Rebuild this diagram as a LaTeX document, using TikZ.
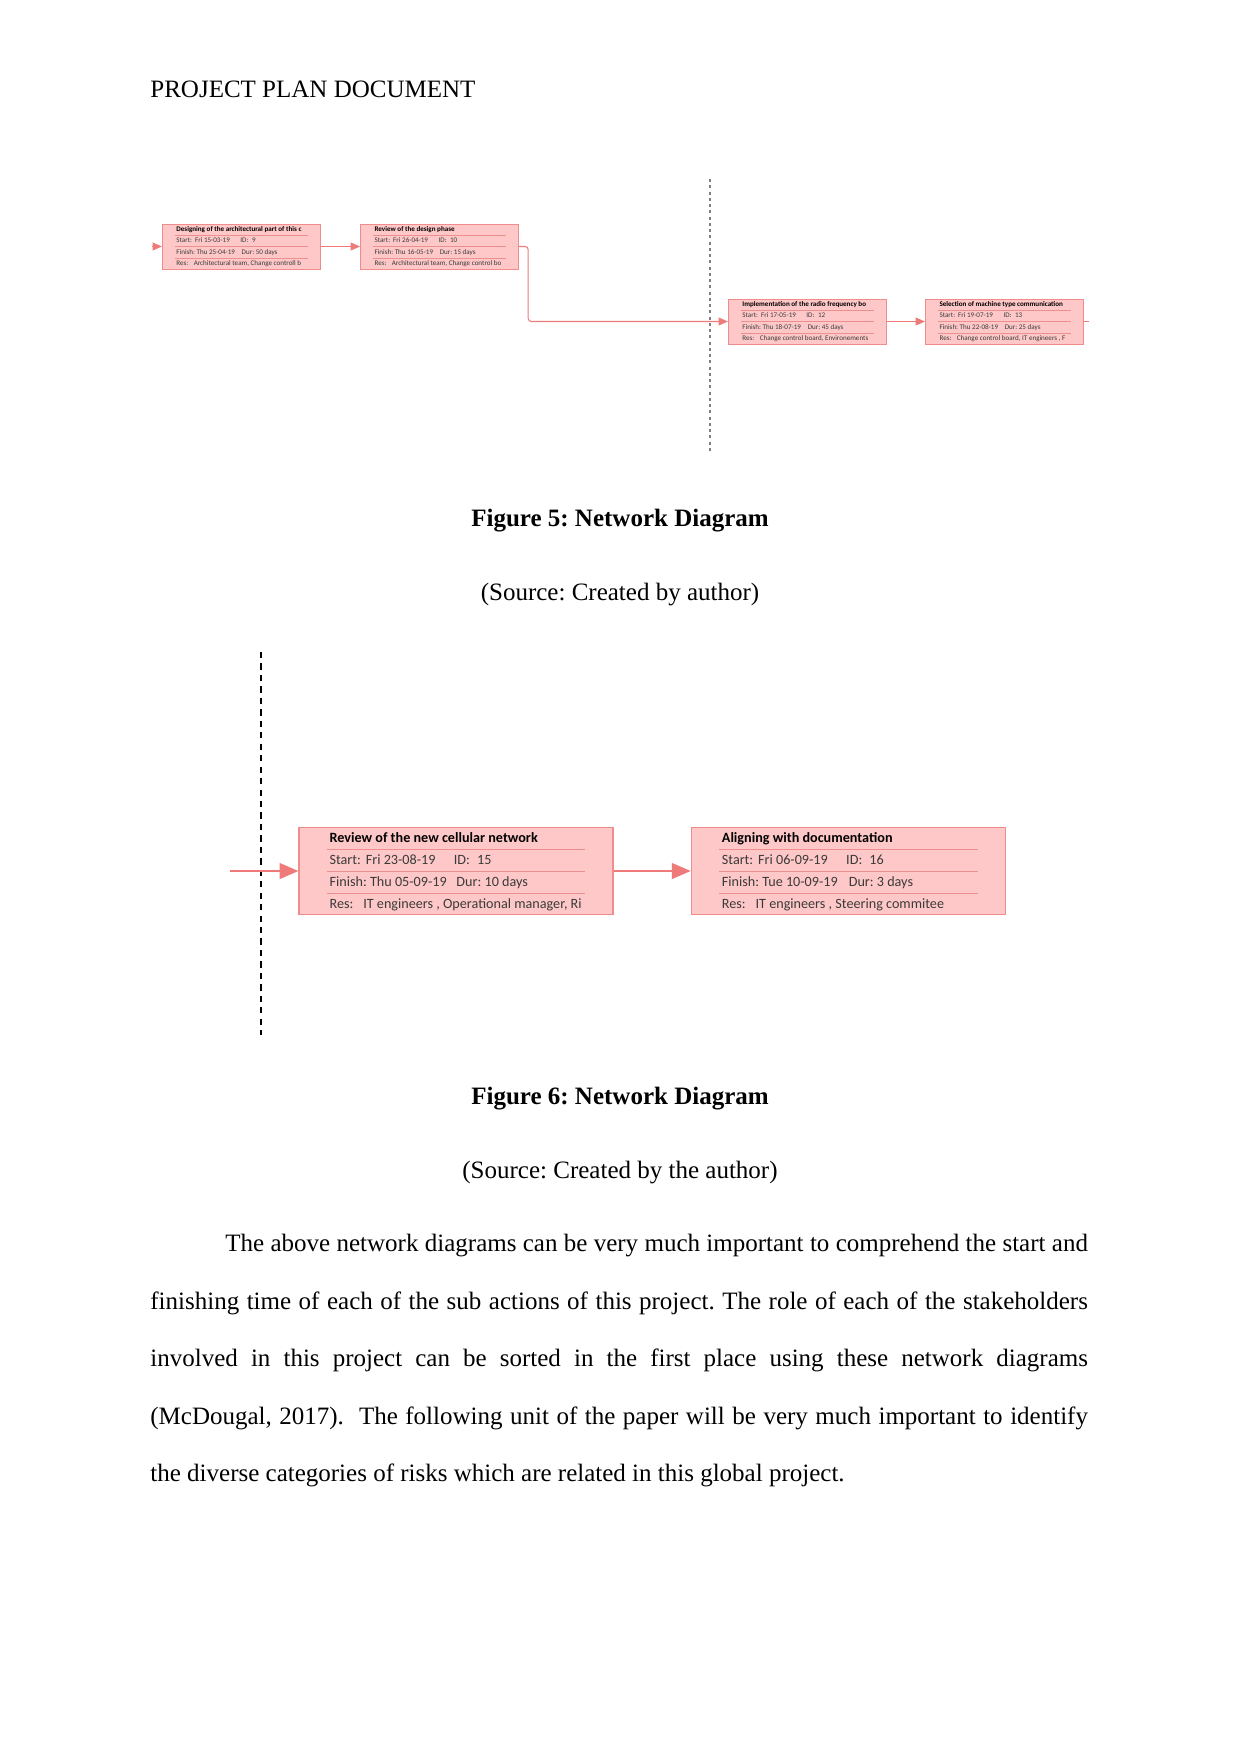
\documentclass[tikz,border=0pt]{standalone}
\usepackage{fontspec}
\setmainfont{Liberation Serif}
\newfontfamily\calibri{Carlito}
\usepackage{colortbl}
\usetikzlibrary{arrows.meta,positioning}
\definecolor{taskfill}{HTML}{FFC8C8}
\definecolor{taskedge}{HTML}{F08C8C}
\definecolor{taskrule}{HTML}{EE8F8F}
\definecolor{linkred}{HTML}{EF7A7A}
\definecolor{rowtext}{HTML}{3A3A3A}
\renewcommand\arraystretch{1.3}
\frenchspacing
\newlength\taskw

% width, title, start, id, finish, dur, res
\newcommand\taskrows[7]{%
  \setlength\taskw{#1}%
  \arrayrulecolor{taskrule}%
  \begin{tabular}{@{}l@{}}
    \makebox[\taskw][l]{\hspace{0.012\taskw}\textbf{#2}}\\\hline
    \color{rowtext}\makebox[\taskw][l]{\hspace{0.012\taskw}\makebox[0.48\taskw][l]{\makebox[0.14\taskw][l]{Start:}#3}ID:\enspace #4}\\\hline
    \color{rowtext}\makebox[\taskw][l]{\hspace{0.012\taskw}\makebox[0.49\taskw][l]{Finish: #5}Dur: #6}\\\hline
    \color{rowtext}\makebox[\taskw][l]{\hspace{0.012\taskw}\makebox[0.13\taskw][l]{Res:}#7}
  \end{tabular}}

\begin{document}
\begin{tikzpicture}[
    x=0.48pt, y=-0.48pt,
    task/.style={draw=taskedge, fill=taskfill, inner ysep=0pt, line width=0.6pt},
    bigtask/.style={task, inner xsep=13.2pt, font=\calibri\fontsize{6.8}{7.8}\selectfont},
    smalltask/.style={task, inner xsep=6pt, line width=0.4pt,
                      font=\calibri\fontsize{3.4}{4}\selectfont\setlength\arrayrulewidth{0.25pt}},
    link/.style={-{Triangle[length=9pt,width=7.5pt]}, linkred, line width=1pt},
    smalllink/.style={-{Triangle[length=4.5pt,width=3.8pt]}, linkred, line width=0.5pt},
    caption/.style={font=\fontsize{12}{14}\selectfont\bfseries, inner sep=0pt},
    source/.style={font=\fontsize{12}{14}\selectfont, inner sep=0pt}
  ]
  \useasboundingbox (0,0) rectangle (1241,1754);

  \node[anchor=base west, inner sep=0pt, font=\fontsize{12}{14}\selectfont] (head) at (150,97) {PROJECT PLAN DOCUMENT};

  % Figure 5
  \draw[gray, line width=0.5pt, dash pattern=on 1.5pt off 1.5pt] (710,179) -- (710,453);
  \node[smalltask] (t1) at (241.5,246.5)
    {\taskrows{64pt}{Designing of the architectural part of this c}{Fri 15-03-19}{9}{Thu 25-04-19}{50 days}{Architectural team, Change controll b}};
  \node[smalltask, right=18.7pt of t1] (t2)
    {\taskrows{64pt}{Review of the design phase}{Fri 26-04-19}{10}{Thu 16-05-19}{15 days}{Architectural team, Change control bo}};
  \node[smalltask] (t3) at (807.5,321.5)
    {\taskrows{64pt}{Implementation of the radio frequency bo}{Fri 17-05-19}{12}{Thu 18-07-19}{45 days}{Change control board, Environements}};
  \node[smalltask, right=18.2pt of t3] (t4)
    {\taskrows{64pt}{Selection of machine type communication}{Fri 19-07-19}{13}{Thu 22-08-19}{25 days}{Change control board, IT engineers , F}};
  \coordinate (in1) at (152,246.5);
  \coordinate (out4) at (1089,321.5);
  \draw[smalllink] (in1) -- (t1.west);
  \draw[smalllink] (t1) -- (t2);
  \draw[smalllink, rounded corners=1.5pt] (t2.east) -- ++(9,0) |- (t3.west);
  \draw[smalllink] (t3) -- (t4);
  \draw[linkred, line width=0.5pt] (t4.east) -- (out4);

  \node[caption] (cap5) at (620,520.5) {Figure 5: Network Diagram};
  \node[source] (src5) at (620,594.5) {(Source: Created by author)};

  % Figure 6
  \draw[black, line width=0.6pt, dash pattern=on 3pt off 2.5pt] (261,652) -- (261,1035);
  \node[bigtask] (b1) at (456,871)
    {\taskrows{124.3pt}{Review of the new cellular network}{Fri 23-08-19}{15}{Thu 05-09-19}{10 days}{IT engineers , Operational manager, Ri}};
  \node[bigtask, right=37pt of b1] (b2)
    {\taskrows{124.3pt}{Aligning with documentation}{Fri 06-09-19}{16}{Tue 10-09-19}{3 days}{IT engineers , Steering commitee}};
  \coordinate (in6) at (230,871);
  \draw[link] (in6) -- (b1.west);
  \draw[link] (b1) -- (b2);

  \node[caption] (cap6) at (620,1098.5) {Figure 6: Network Diagram};
  \node[source] (src6) at (620,1172.5) {(Source: Created by the author)};

  \node[anchor=north west, inner sep=0pt, text width=450pt, align=justify,
        font=\fontsize{12}{27.6}\selectfont] (body) at (150,1234)
    {\hspace*{36pt}The above network diagrams can be very much important to comprehend the start and\linebreak
     finishing time of each of the sub actions of this project. The role of each of the stakeholders\linebreak
     involved in this project can be sorted in the first place using these network diagrams\linebreak
     (McDougal, 2017).\ \ The following unit of the paper will be very much important to identify\linebreak
     the diverse categories of risks which are related in this global project.};
\end{tikzpicture}
\end{document}
